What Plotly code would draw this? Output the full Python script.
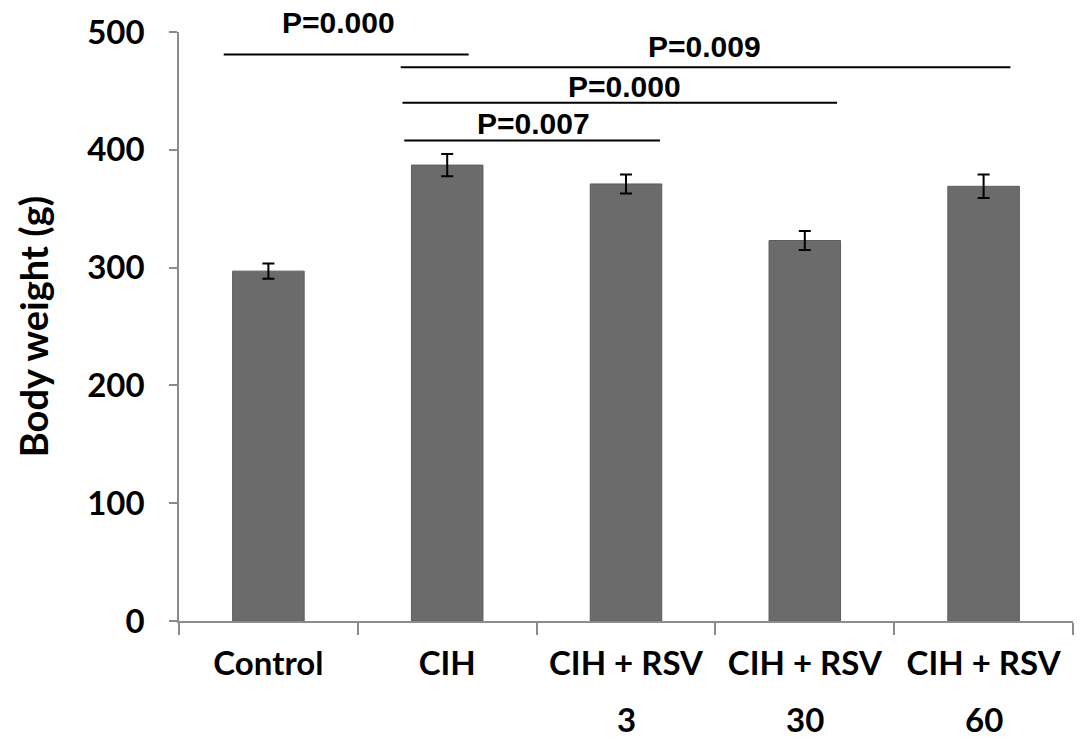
import plotly.graph_objects as go

categories = ['Control', 'CIH', 'CIH + RSV 3', 'CIH + RSV 30', 'CIH + RSV 60']
label_top = ['Control', 'CIH', 'CIH + RSV', 'CIH + RSV', 'CIH + RSV']
label_bottom = ['', '', '3', '30', '60']
weights = [297, 387, 371, 323, 369]
errors = [6.5, 9.5, 8, 8, 10]

# significance brackets: (x start, x end, y, label, label x, label lift in px)
sig_lines = [
    (-0.25, 1.12, 481, 'P=0.000', 0.39, 32),
    (0.74, 4.15, 470, 'P=0.009', 2.44, 21),
    (0.75, 3.18, 440, 'P=0.000', 1.99, 16),
    (0.76, 2.19, 408, 'P=0.007', 1.48, 17),
]

fig = go.Figure()
fig.add_trace(go.Bar(
    x=categories, y=weights, width=0.4,
    marker=dict(color='#6b6b6b', line=dict(color='#5c5c5c', width=1)),
    error_y=dict(type='data', array=errors, color='black', thickness=2, width=6),
    cliponaxis=False,
))

for x0, x1, y, label, lx, lift in sig_lines:
    fig.add_shape(type='line', x0=x0, x1=x1, y0=y, y1=y, xref='x', yref='y',
                  line=dict(color='black', width=2))
    fig.add_annotation(x=lx, y=y, yshift=lift, text=label, showarrow=False,
                       xref='x', yref='y',
                       font=dict(family='Liberation Sans', size=30, color='black', weight='bold'))

# second line of the x labels
for i, d in enumerate(label_bottom):
    if d:
        fig.add_annotation(x=i, y=0, yref='paper', yshift=-120, text=d, showarrow=False,
                           font=dict(family='Lato', size=33, color='black', weight='bold'))

# page body adds 8px offset, so the figure is slightly smaller
fig.update_layout(
    width=1079, height=736,
    margin=dict(l=171, r=14, t=24, b=123),
    plot_bgcolor='white', paper_bgcolor='white',
    showlegend=False,
    font=dict(family='Lato', color='black'),
)
fig.update_xaxes(
    type='category', tickmode='array', tickvals=categories, ticktext=label_top,
    showgrid=False, automargin=False,
    showline=True, linecolor='#8c8c8c', linewidth=1.5,
    ticks='outside', tickson='boundaries', ticklen=12, tickcolor='#8c8c8c', tickwidth=1.5,
    tickfont=dict(family='Lato', size=33, color='black', weight='bold'),
    ticklabelstandoff=13,
)
fig.update_yaxes(
    range=[0, 500], dtick=100, showgrid=False, zeroline=False, automargin=False,
    showline=True, linecolor='#8c8c8c', linewidth=1.5,
    ticks='outside', ticklen=8, tickcolor='#8c8c8c', tickwidth=1.5,
    tickfont=dict(family='Lato', size=33, color='black', weight='bold'),
    ticklabelstandoff=18,
    title=dict(text='Body weight (g)', standoff=27,
               font=dict(family='Lato', size=38, color='black', weight='bold')),
)

fig.write_html('out.html')
